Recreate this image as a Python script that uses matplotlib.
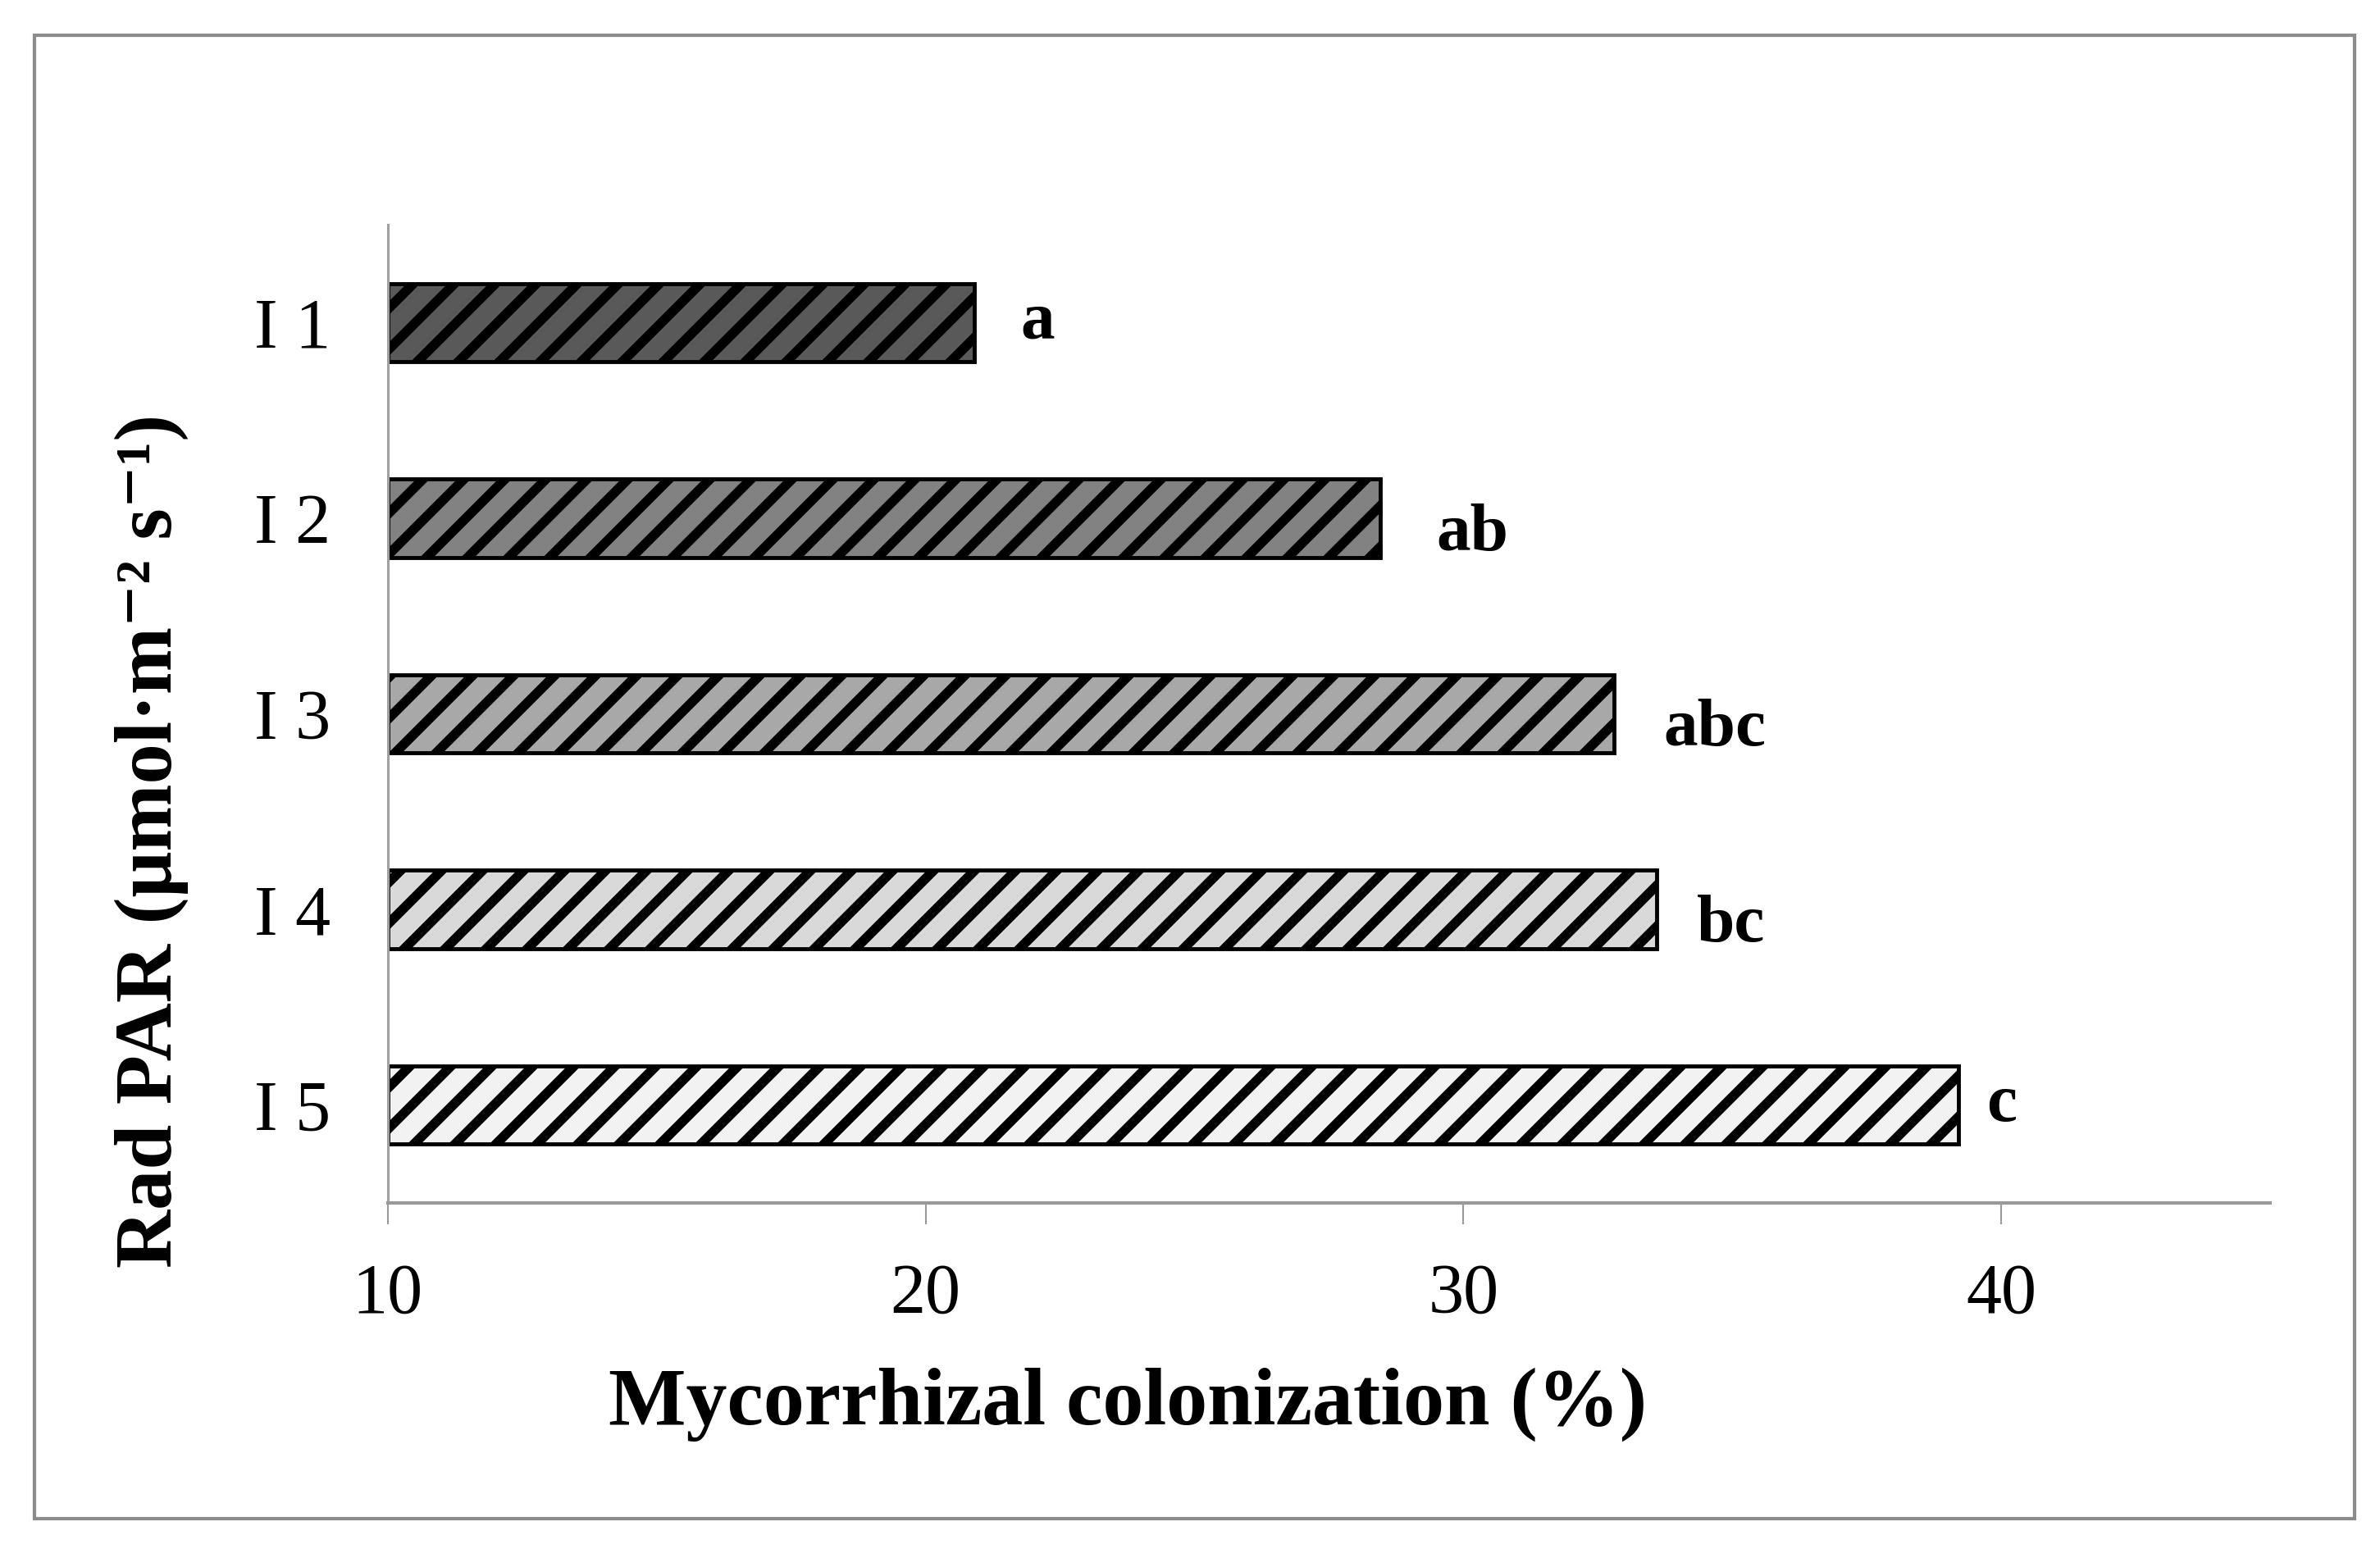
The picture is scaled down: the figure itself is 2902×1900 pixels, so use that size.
import matplotlib
matplotlib.use("Agg")
import matplotlib.pyplot as plt
from matplotlib.patches import Rectangle

categories = ["I 1", "I 2", "I 3", "I 4", "I 5"]
values = [20.9, 28.45, 32.8, 33.6, 39.2]
letters = ["a", "ab", "abc", "bc", "c"]
label_gap = [0.87, 1.05, 0.92, 0.74, 0.53]
colors = ["#595959", "#828282", "#a8a8a8", "#d9d9d9", "#f2f2f2"]
xticks = [10, 20, 30, 40]

DPI = 300
S = 100 / DPI  # scale for sizes designed at 100 dpi

plt.rcParams["font.family"] = ["Liberation Serif", "DejaVu Serif"]
plt.rcParams["hatch.linewidth"] = 2.8
plt.rcParams["hatch.color"] = "black"

fig = plt.figure(figsize=(2903 / DPI, 1900 / DPI), dpi=DPI)
ax = fig.add_axes([0.1629, 0.2279, 0.9535 - 0.1629, 0.8558 - 0.2279])

ypos = list(range(len(categories)))
ax.barh(ypos, [v - 10 for v in values], left=10, height=0.4,
        color=colors, edgecolor="black", linewidth=3.5 * S, hatch="//")

for y, v, t, g in zip(ypos, values, letters, label_gap):
    drop = 4.6 if any(ch in "bdfhklt" for ch in t) else 0.0
    ax.annotate(t, (v + g, y), xytext=(0, -drop), textcoords="offset points",
                ha="left", va="center", fontsize=60 * S,
                fontweight="bold", color="black")

ax.set_xlim(10, 45)
ax.set_ylim(4.5, -0.5)
ax.set_yticks(ypos)
ax.set_yticklabels(categories, fontsize=62 * S)
ax.set_xticks(xticks)
ax.set_xticklabels([str(t) for t in xticks], fontsize=62 * S)
ax.tick_params(axis="y", length=0, pad=50 * S)
ax.tick_params(axis="x", length=19 * S, width=1.5 * S, color="#999999",
               pad=34 * S)

for s in ["top", "right"]:
    ax.spines[s].set_visible(False)
ax.spines["left"].set_color("#a0a0a0")
ax.spines["left"].set_linewidth(2.2 * S)
ax.spines["bottom"].set_color("#999999")
ax.spines["bottom"].set_linewidth(3.0 * S)

fig.text(0.4737, 0.0984, "Mycorrhizal colonization (%)", ha="center",
         va="center", fontsize=72 * S, fontweight="bold")
fig.text(0.0637, 0.4605, "Rad PAR (μmol·m⁻² s⁻¹)",
         ha="center", va="center", rotation=90, fontsize=71 * S,
         fontweight="bold")

border = Rectangle((42 / 2903, 1 - 1852 / 1900), (2871 - 42) / 2903,
                   (1852 - 43) / 1900, transform=fig.transFigure,
                   fill=False, edgecolor="#8c8c8c", linewidth=3.0 * S)
fig.patches.append(border)

fig.savefig("out.png", dpi=DPI)
